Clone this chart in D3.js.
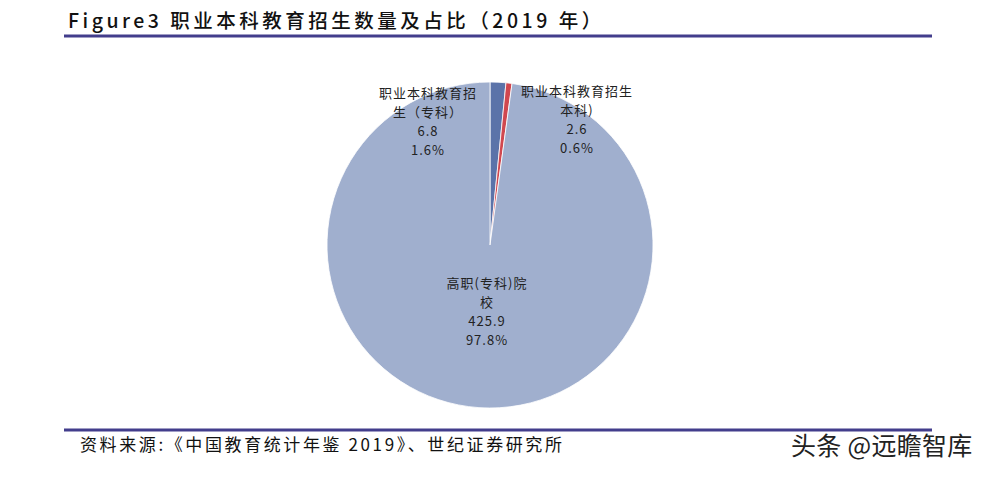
<!DOCTYPE html>
<html><head><meta charset="utf-8">
<script src="https://cdn.jsdelivr.net/npm/d3@7"></script>
<style>body{margin:0;background:#fff;}svg{display:block;}</style>
</head><body>
<svg id="c" width="985" height="477"></svg>
<script>
const categories = ["职业本科教育招生（专科）", "职业本科教育招生（本科）", "高职(专科)院校"];
const values = [6.8, 2.6, 425.9];
const percents = ["1.6%", "0.6%", "97.8%"];
const labelLines = [["职业本科教育招", "生（专科）"], ["职业本科教育招生", "本科)"], ["高职(专科)院", "校"]];
const colors = ["#5B73A9", "#D0474F", "#A0AFCE"];

const svg = d3.select("#c");
const font = "'Noto Sans CJK SC', 'DejaVu Sans', sans-serif";

svg.append("text").attr("x", 68).attr("y", 28).attr("font-family", font)
  .attr("font-size", 19.5).attr("font-weight", 500).attr("fill", "#111")
  .attr("letter-spacing", 3.5)
  .text("Figure3 职业本科教育招生数量及占比（2019 年）");
svg.append("line").attr("x1", 64).attr("x2", 932).attr("y1", 36).attr("y2", 36)
  .attr("stroke", "#423D8C").attr("stroke-width", 3);

const cx = 490, cy = 245, r = 163;
const pie = d3.pie().sort(null).value(d => d)(values);
const arc = d3.arc().innerRadius(0).outerRadius(r);
const g = svg.append("g").attr("transform", `translate(${cx},${cy})`);
g.selectAll("path").data(pie).join("path")
  .attr("d", arc).attr("fill", (d, i) => colors[i])
  .attr("stroke", "#fff").attr("stroke-width", 0.8);

const labelPos = [[-62, -147], [87, -149], [-3, 43]];
pie.forEach((d, i) => {
  const lines = [...labelLines[i], String(values[i]), percents[i]];
  const t = g.append("text").attr("text-anchor", "middle").attr("font-family", font)
    .attr("font-size", 13).attr("letter-spacing", 1).attr("fill", "#222");
  lines.forEach((s, j) => {
    t.append("tspan").attr("x", labelPos[i][0]).attr("y", labelPos[i][1] + j * 19).text(s);
  });
});

svg.append("line").attr("x1", 64).attr("x2", 932).attr("y1", 430).attr("y2", 430)
  .attr("stroke", "#423D8C").attr("stroke-width", 3);
svg.append("text").attr("x", 80).attr("y", 451).attr("font-family", font)
  .attr("font-size", 17).attr("letter-spacing", 2.6).attr("fill", "#111")
  .text("资料来源:《中国教育统计年鉴 2019》、世纪证券研究所");
svg.append("text").attr("x", 791).attr("y", 455).attr("font-family", font)
  .attr("font-size", 25).attr("letter-spacing", 0.3).attr("fill", "#222")
  .text("头条 @远瞻智库");
</script>
</body></html>
